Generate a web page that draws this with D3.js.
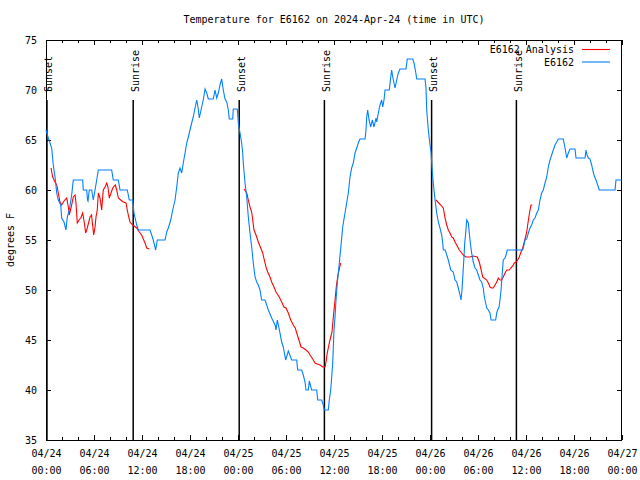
<!DOCTYPE html>
<html><head><meta charset="utf-8">
<script src="https://cdn.jsdelivr.net/npm/d3@7"></script>
<style>
body{margin:0;background:#fff;}
text{font-family:"DejaVu Sans Mono",monospace;font-size:10px;fill:#000;}
</style></head><body>
<svg id="chart" width="640" height="480"></svg>
<script>
// ---- data (hours since 2024-04-24 00:00 UTC, degrees F) ----
const chartTitle = "Temperature for E6162 on 2024-Apr-24 (time in UTC)";
const yTicks = [35, 40, 45, 50, 55, 60, 65, 70, 75];
const xMajorTicks = [0, 6, 12, 18, 24, 30, 36, 42, 48, 54, 60, 66, 72];
const xTickDates = ["04/24","04/24","04/24","04/24","04/25","04/25","04/25","04/25","04/26","04/26","04/26","04/26","04/27"];
const xTickTimes = ["00:00","06:00","12:00","18:00","00:00","06:00","12:00","18:00","00:00","06:00","12:00","18:00","00:00"];
const sunEventHours = [0.12, 10.9, 24.15, 34.8, 48.2, 58.8];
const sunEventLabels = ["Sunset","Sunrise","Sunset","Sunrise","Sunset","Sunrise"];

const obsHours = [0,0.29,0.71,0.91,1.13,1.34,1.54,1.84,1.96,2.25,2.5,2.66,2.91,3.21,3.41,4.59,4.66,5.09,5.19,5.25,5.41,5.71,5.91,6.13,6.34,6.54,8.21,8.41,9.04,9.25,10.16,10.41,10.84,11.0,11.34,11.54,13.0,13.21,13.41,13.71,13.91,14.88,15.09,15.29,15.59,15.84,16.13,16.34,16.54,16.75,16.96,17.16,17.38,17.59,17.79,18.0,18.21,18.41,18.63,18.84,19.0,19.16,19.46,19.66,19.88,20.09,20.29,20.91,21.13,21.34,21.54,21.75,21.96,22.16,22.38,22.59,22.79,22.91,23.34,23.41,23.91,24.04,24.25,24.46,24.59,24.66,24.88,25.09,25.29,25.5,25.71,25.91,26.13,26.34,26.54,26.75,26.96,27.38,27.59,27.79,28.21,28.63,28.75,28.91,29.13,29.46,29.66,29.96,30.29,30.71,31.34,31.46,31.96,32.16,32.38,32.5,32.79,32.91,33.21,33.84,33.96,34.46,34.66,34.79,35.29,35.41,35.59,35.75,35.84,36.0,36.13,36.25,36.41,36.66,36.88,37.09,37.29,37.5,37.79,38.0,38.21,38.41,38.63,38.84,39.04,39.25,39.88,40.0,40.09,40.21,40.38,40.59,40.79,41.0,41.25,41.34,41.54,41.75,41.96,42.09,42.25,42.38,42.91,43.09,43.21,43.34,43.5,43.63,43.84,44.04,44.25,45.0,45.16,45.84,46.0,46.21,46.34,47.38,47.5,47.59,47.79,48.0,48.13,48.25,48.41,48.63,48.84,49.04,49.25,49.46,49.59,49.66,49.91,50.09,50.29,50.59,50.91,51.13,51.34,51.54,51.75,51.88,52.0,52.09,52.21,52.34,52.46,52.59,52.79,52.91,53.04,53.21,53.41,53.63,53.84,54.04,54.25,54.46,54.66,54.79,54.96,55.09,55.29,55.5,55.63,56.21,56.34,56.46,56.63,56.75,56.88,57.0,57.09,57.16,57.38,57.5,57.66,59.59,59.75,59.88,60.09,60.29,60.5,60.71,60.91,61.13,61.34,61.54,61.75,61.96,62.16,62.38,62.59,62.79,63.0,63.21,63.41,63.63,63.84,64.04,64.66,64.88,65.09,65.29,65.5,66.13,66.25,67.38,67.5,67.63,67.79,68.0,68.21,68.34,68.5,68.84,69.04,69.16,71.13,71.25,71.96];
const obsTemps = [66,65.2,64.2,62.5,61.3,59.7,59,58.5,57.2,56.8,56,57.3,58,59.5,61,61,60,60,59,58.9,60,60,59,60,61,62,62,61,61,60,60,59,59,57.7,56.5,56,56,55.5,55,54,55,55,55.8,56.2,57,58,59,60.3,61.7,62.2,61.7,62.7,63.7,64.7,65.3,66,66.7,67.3,68.2,69,68.3,67.2,68.3,69,70.1,69.7,69.1,69.1,70,69.2,69.7,70.5,71.1,70,69.1,68.8,68,67.1,67.1,68.1,68.1,66.7,65.7,64.7,63.7,62.7,60.7,59.3,57.3,55.7,54.3,52.7,51.3,50.8,50.5,50,49,49,48.5,48,47.2,46.5,46,47,46.2,44.8,44.3,43,43.9,43,43,42,42,41.5,40.8,40,40,40.9,40,40,39,39,38.5,38,38,39,40,41.7,42.7,46,47.3,49,50.7,52.7,54.5,56.3,57.3,58.3,59.7,61.3,62.2,62.7,63.7,64.2,64.7,65.1,65.1,66,67.3,68,67,66.3,67,66.3,67.2,66.8,67.7,68.5,69,68.3,69,70,70,71.3,72,71.3,70.7,70.2,71,71.7,72.1,72.1,73.1,73.1,72.7,71.8,71.1,71.1,70.2,68,66,64.5,63.8,62.2,60.7,59,57.7,56.8,56.2,55.5,54.7,54,54,53.5,53,52,51.8,51,50.8,50.2,49.5,49,50,51.2,52.8,54.7,55.7,57,56.7,55.7,54.7,53.7,52.8,52.2,52,51.5,51,50.8,50.2,49.3,48.7,48.2,48,47.7,47,47,47.7,48,48.3,49,50,51.3,52.3,53,53.2,53.5,54,54,54.5,55,55.1,55.7,56.2,56.5,57,57.2,57.7,58,59,59.7,60,60.7,61.3,62.3,63,63.5,64,64.5,64.8,65.1,65.1,64.2,63.2,63.7,64.1,64.1,63.2,63.2,64,63.5,63.2,63.1,62.5,62,61.5,60.8,60.3,60,60,61,61];

// analysis series (null = gap between runs)
const anaHours = [0.63,0.84,1.13,1.34,1.54,1.75,1.96,2.25,2.59,2.79,2.91,3.21,3.41,3.63,3.75,3.91,4.13,4.34,4.59,4.79,4.96,5.16,5.5,5.69,5.83,5.96,6.13,6.25,6.41,6.54,6.75,6.96,7.16,7.38,7.59,7.75,7.91,8.13,8.34,8.66,8.84,9.04,9.34,9.66,10.0,10.16,10.34,10.5,10.84,11.34,11.66,11.96,12.16,12.38,12.59,12.91,
 null,
 24.75,25.09,25.29,25.5,25.71,25.84,26.0,26.25,26.54,26.84,27.09,27.29,27.5,27.71,28.0,28.21,28.5,28.75,29.16,29.46,29.75,30.0,30.29,30.59,30.91,31.16,31.34,31.54,31.88,32.16,32.5,32.79,33.0,33.34,33.63,33.91,34.25,34.59,34.88,35.0,35.16,35.41,35.59,35.75,35.94,36.13,36.31,36.5,36.84,
 null,
 48.75,49.34,49.66,49.88,50.09,50.29,50.5,50.71,50.91,51.13,51.34,51.66,51.96,52.16,52.5,53.0,53.41,53.91,54.16,54.34,54.59,55.09,55.29,55.5,55.71,55.91,56.13,56.34,56.54,56.75,56.96,57.16,57.38,57.59,57.91,58.09,58.34,58.54,58.75,58.96,59.16,59.38,59.59,59.75,59.91,60.09,60.21,60.34,60.5,60.63,60.79];
const anaTemps = [62.2,61.3,60.8,60.5,59.7,58.8,58.5,58.9,59.2,58.3,57.5,58.5,59.3,59.5,58.7,56.7,57,57.2,57.7,56.7,55.7,56.2,57.3,57.5,56.5,55.5,56.3,57.3,58,59.7,59.2,58,60,60.3,60.7,60.3,59.2,59.7,60.2,60.5,60,59.2,59,58.8,58.7,58,57.3,56.8,56.5,56.2,55.8,55.5,55.1,54.7,54.2,54.1,
 null,
 60.1,59.7,59,58.3,57.8,57,56,55.5,54.8,54.2,53.7,53,52.3,51.8,51.3,50.8,50.3,49.8,49.3,48.8,48.3,48.2,47.7,47,46.5,46.2,45.7,45.2,44.3,44.2,44,43.8,43.5,43.1,42.7,42.6,42.5,42.3,42.3,42.8,43.7,44.7,45.3,45.8,47.5,49,50.5,51.5,52.7,
 null,
 59,58.5,58.2,57.2,56.5,56,55.7,55.3,55.2,54.8,54.5,54,53.7,53.5,53.3,53.3,53.4,53.3,52.8,52.2,51.3,51,50.7,50.3,50.2,50.2,50.5,50.8,51.2,51,51,51.3,51.7,52,52,52.2,52.4,52.7,52.8,53,53.3,53.8,54.2,54.7,55.2,55.8,56.5,57.2,58,58.5,58.5];

const seriesNames = ["E6162 Analysis", "E6162"];
const seriesColors = ["#ff0000", "#0080ff"];

// ---- drawing ----
const svg = d3.select("#chart");
const L = 46, R = 622, T = 40, B = 440;
const x = d3.scaleLinear().domain([0, 72]).range([L, R]);
const y = d3.scaleLinear().domain([35, 75]).range([B, T]);

svg.append("rect").attr("width",640).attr("height",480).attr("fill","#fff");

// title
svg.append("text").attr("x",(L+R)/2).attr("y",23).attr("text-anchor","middle").text(chartTitle);
// y label
svg.append("text").attr("transform","translate(14,240) rotate(-90)").attr("text-anchor","middle").text("degrees F");

const minorX = d3.range(0, 73, 2).filter(h => h % 6 !== 0);

// bottom axis (major, labels)
const gB = svg.append("g").attr("transform",`translate(0,${B})`)
  .call(d3.axisBottom(x).tickValues(xMajorTicks).tickSize(-5).tickPadding(9).tickFormat(""));
gB.selectAll(".tick").append("text")
  .attr("fill","#000").attr("text-anchor","middle")
  .each(function(d,i){
    const t = d3.select(this);
    t.append("tspan").attr("x",0).attr("y",17).text(xTickDates[i]);
    t.append("tspan").attr("x",0).attr("y",34).text(xTickTimes[i]);
  });
svg.append("g").attr("transform",`translate(0,${B})`)
  .call(d3.axisBottom(x).tickValues(minorX).tickSize(-3).tickFormat(""));
// top axis
svg.append("g").attr("transform",`translate(0,${T})`)
  .call(d3.axisTop(x).tickValues(xMajorTicks).tickSize(-5).tickFormat(""));
svg.append("g").attr("transform",`translate(0,${T})`)
  .call(d3.axisTop(x).tickValues(minorX).tickSize(-3).tickFormat(""));
// left axis
svg.append("g").attr("transform",`translate(${L},0)`)
  .call(d3.axisLeft(y).tickValues(yTicks).tickSize(-5).tickPadding(9).tickFormat(d3.format("d")))
  .selectAll("text").attr("dy","0.35em").attr("fill","#000");
// right axis
svg.append("g").attr("transform",`translate(${R},0)`)
  .call(d3.axisRight(y).tickValues(yTicks).tickSize(-5).tickFormat(""));
svg.selectAll(".domain").remove();
svg.selectAll(".tick line").attr("stroke","#000");
svg.selectAll(".tick text").style("font-family","DejaVu Sans Mono, monospace").style("font-size","10px");

// frame
svg.append("rect").attr("x",L+0.5).attr("y",T+0.5).attr("width",R-L-1).attr("height",B-T)
  .attr("fill","none").attr("stroke","#000").attr("stroke-width",1);

// sun events
sunEventHours.forEach((h,i) => {
  svg.append("line").attr("x1",x(h)).attr("x2",x(h)).attr("y1",100).attr("y2",B)
    .attr("stroke","#000").attr("stroke-width",1.5);
  svg.append("text").attr("transform",`translate(${x(h)+5.5},92) rotate(-90)`)
    .attr("text-anchor","start").text(sunEventLabels[i]);
});

// lines
const anaData = anaHours.map((h,i)=>({h, t: anaTemps[i]}));
const obsData = obsHours.map((h,i)=>({h, t: obsTemps[i]}));
const line = d3.line().defined(d => d.h !== null && d.t !== null).x(d => x(d.h)).y(d => y(d.t));
svg.append("path").datum(anaData).attr("d",line).attr("fill","none")
  .attr("stroke",seriesColors[0]).attr("stroke-width",1.1);
svg.append("path").datum(obsData).attr("d",line).attr("fill","none")
  .attr("stroke",seriesColors[1]).attr("stroke-width",1.1);

// legend
seriesNames.forEach((n,i) => {
  const ly = 49.5 + i*12.5;
  svg.append("text").attr("x",574).attr("y",ly).attr("dy","0.35em").attr("text-anchor","end").text(n);
  svg.append("line").attr("x1",582).attr("x2",610).attr("y1",ly).attr("y2",ly)
    .attr("stroke",seriesColors[i]).attr("stroke-width",1.1);
});
</script>
</body></html>
